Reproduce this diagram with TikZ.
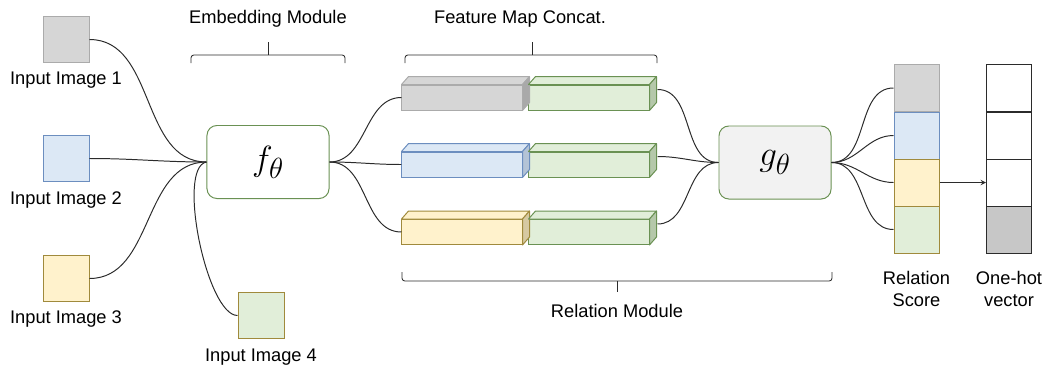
\documentclass[tikz,border=0pt]{standalone}
\usepackage{fontspec}
\setmainfont{Liberation Sans}
\usetikzlibrary{calc,arrows}
\definecolor{grayF}{HTML}{D6D6D6}
\definecolor{grayD}{HTML}{ABABAB}
\definecolor{grayS}{HTML}{A9A9A9}
\definecolor{blueF}{HTML}{DCE8F5}
\definecolor{blueD}{HTML}{6C8EBF}
\definecolor{blueS}{HTML}{B3C3D6}
\definecolor{yellowF}{HTML}{FFF2CC}
\definecolor{yellowD}{HTML}{A08A3C}
\definecolor{yellowS}{HTML}{D6C9A2}
\definecolor{greenF}{HTML}{E1EED9}
\definecolor{greenD}{HTML}{6A9153}
\definecolor{greenS}{HTML}{B5C8AA}
\definecolor{lineC}{HTML}{2B2B2B}
\begin{document}
\begin{tikzpicture}[
  x=0.025cm, y=-0.025cm,
  lbl/.style={font=\fontsize{13}{15.6}\selectfont, align=center},
  img/.style={draw, line width=0.7pt, minimum size=1.15cm, inner sep=0pt},
  func/.style={draw=greenD, line width=0.7pt, rounded corners=7pt, minimum height=1.825cm, font=\fontsize{28}{32}\selectfont},
  bar/.style={draw, line width=0.7pt, minimum width=3cm, minimum height=0.625cm, inner sep=0pt},
  cell/.style={draw, line width=0.7pt, minimum width=1.125cm, minimum height=1.175cm, inner sep=0pt},
  link/.style={lineC, line width=0.7pt},
  arr/.style={->, >=stealth, lineC, line width=0.7pt},
  bracket/.style={lineC, line width=0.6pt, rounded corners=2pt}
]
\useasboundingbox (0,0) rectangle (1047,370);
% inputs
\node[img, fill=grayF, draw=grayD]     (img1) at (66,39.5) {};
\node[img, fill=blueF, draw=blueD]     (img2) at (66,158.5) {};
\node[img, fill=yellowF, draw=yellowD] (img3) at (66,278.5) {};
\node[img, fill=greenF, draw=yellowD]  (img4) at (261,315.5) {};
\node[lbl] (t1) at (66,80)  {Input Image 1};
\node[lbl] (t2) at (66,200) {Input Image 2};
\node[lbl] (t3) at (66,319) {Input Image 3};
\node[lbl] (t4) at (261,357) {Input Image 4};
% modules
\node[func, fill=white, minimum width=3.05cm]    (f) at (268,162) {$f_\theta$};
\node[func, fill=black!5, minimum width=2.8cm] (g) at (775,162.5) {$g_\theta$};
% feature maps
\node[bar, fill=grayF, draw=grayD]     (a1) at (462,97.5) {};
\node[bar, fill=blueF, draw=blueD]     (a2) at (462,164.5) {};
\node[bar, fill=yellowF, draw=yellowD] (a3) at (462,232) {};
\node[bar, fill=greenF, draw=greenD]   (c1) at (589,97.5) {};
\node[bar, fill=greenF, draw=greenD]   (c2) at (589,164.5) {};
\node[bar, fill=greenF, draw=greenD]   (c3) at (589,232) {};
\foreach \b/\c in {a1/gray, a2/blue, a3/yellow, c1/green, c2/green, c3/green} {
  \filldraw[fill=\c F, draw=\c D, line width=0.7pt, line join=round]
    (\b.north west) -- ++(7,-8) -- ($(\b.north east)+(7,-8)$) -- (\b.north east) -- cycle;
  \filldraw[fill=\c S, draw=\c D, line width=0.7pt, line join=round]
    (\b.north east) -- ++(7,-8) -- ($(\b.south east)+(7,-8)$) -- (\b.south east) -- cycle;
}
% relation score and one-hot vector
\node[cell, fill=grayF, draw=grayD]     (s1) at (916.5,88) {};
\node[cell, fill=blueF, draw=blueD]     (s2) at (916.5,135.5) {};
\node[cell, fill=yellowF, draw=yellowD] (s3) at (916.5,182.5) {};
\node[cell, fill=greenF, draw=yellowD]  (s4) at (916.5,229.5) {};
\node[cell, fill=white, draw=lineC]     (o1) at (1009,88) {};
\node[cell, fill=white, draw=lineC]     (o2) at (1009,135.5) {};
\node[cell, fill=white, draw=lineC]     (o3) at (1009,182.5) {};
\node[cell, fill=black!22, draw=lineC]  (o4) at (1009,229.5) {};
\node[lbl] (rs) at (916.5,289) {Relation\\Score};
\node[lbl] (oh) at (1009,289)  {One-hot\\vector};
% brackets
\node[lbl] (em) at (268,19)  {Embedding Module};
\node[lbl] (fm) at (520,19)  {Feature Map Concat.};
\node[lbl] (rm) at (617,311) {Relation Module};
\draw[bracket] (191,63) -- (191,55) -- (345,55) -- (345,63);
\draw[bracket] (268,55) -- (268,42);
\draw[bracket] (405,63) -- (405,55) -- (657,55) -- (657,63);
\draw[bracket] (532,55) -- (532,42);
\draw[bracket] (402,272) -- (402,281) -- (832,281) -- (832,272);
\draw[bracket] (617,281) -- (617,292);
% connections
\draw[link] (img1.east) to[out=0, in=180] (f.west);
\draw[link] (img2.east) to[out=0, in=180] (f.west);
\draw[link] (img3.east) to[out=0, in=180] (f.west);
\draw[link] (f.west) to[out=190, in=180, looseness=0.5] (img4.west);
\foreach \b in {a1, a2, a3}
  \draw[link] (f.east) to[out=0, in=180] (\b.west);
\foreach \b in {c1, c2, c3}
  \draw[link] ($(\b.east)+(8,-8)$) to[out=0, in=180] (g.west);
\foreach \b in {s1, s2, s3, s4}
  \draw[link] (g.east) to[out=0, in=180] (\b.west);
\draw[arr] (s3.east) -- (o3.west);
\end{tikzpicture}
\end{document}
